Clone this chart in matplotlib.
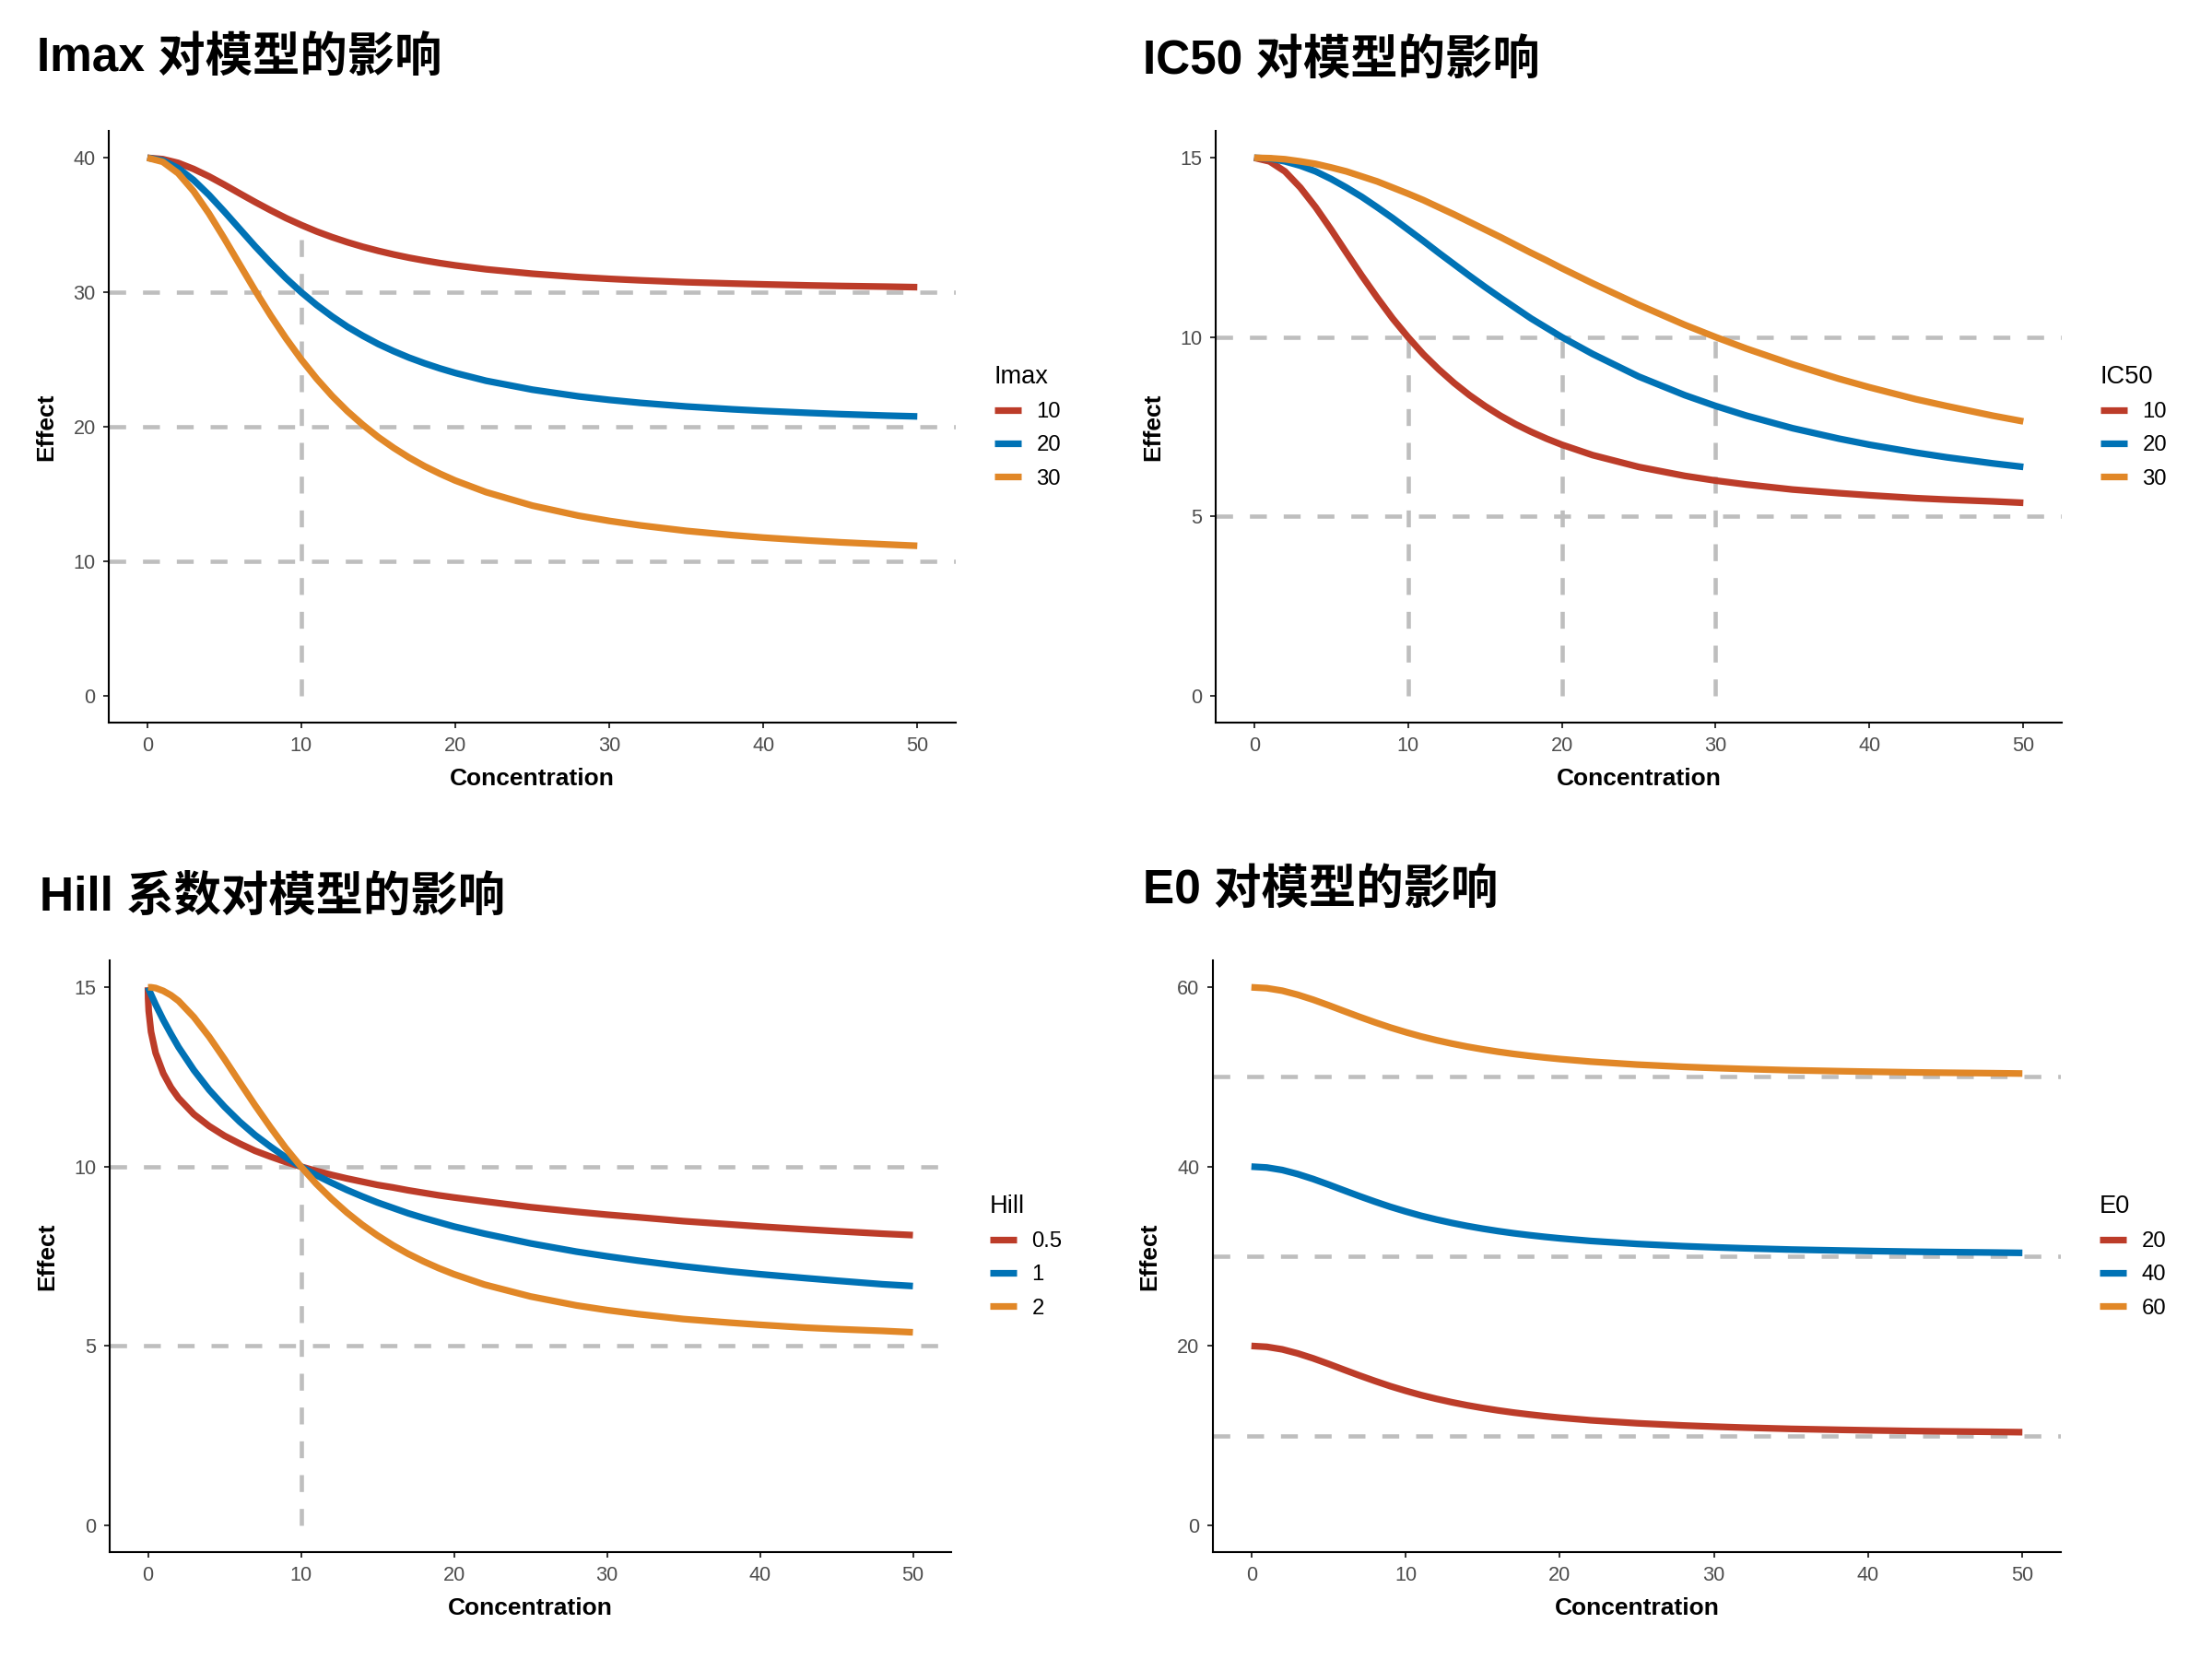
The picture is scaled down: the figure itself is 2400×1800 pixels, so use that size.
import matplotlib
matplotlib.use("Agg")
import matplotlib.pyplot as plt
from matplotlib.lines import Line2D

# 颜色 (NEJM 配色)
colors = ["#BC3C29", "#0072B5", "#E18727"]

# 浓度点
conc = [0, 1, 2, 3, 4, 5, 6, 7, 8, 9, 10, 11, 12, 13, 14, 15, 16, 17, 18, 19, 20,
        22, 25, 28, 30, 32, 35, 38, 40, 43, 45, 48, 50]
conc_hill = [0, 0.01, 0.05, 0.2, 0.5, 1, 1.5, 2, 3, 4, 5, 6, 7, 8, 9, 10, 11, 12,
             13, 14, 15, 16, 17, 18, 19, 20, 22, 25, 28, 30, 32, 35, 38, 40, 43,
             45, 48, 50]

# Imax 面板
imax_labels = ["10", "20", "30"]
imax_10 = [40, 39.90, 39.62, 39.17, 38.62, 38.0, 37.35, 36.71, 36.10, 35.52, 35.0,
           34.52, 34.10, 33.72, 33.38, 33.08, 32.81, 32.57, 32.36, 32.17, 32.0,
           31.71, 31.38, 31.13, 31.0, 30.89, 30.75, 30.65, 30.59, 30.51, 30.47,
           30.42, 30.38]
imax_20 = [40, 39.80, 39.23, 38.35, 37.24, 36.0, 34.71, 33.42, 32.20, 31.05, 30.0,
           29.05, 28.20, 27.43, 26.76, 26.15, 25.62, 25.14, 24.72, 24.34, 24.0,
           23.42, 22.76, 22.26, 22.0, 21.78, 21.51, 21.30, 21.18, 21.03, 20.94,
           20.83, 20.77]
imax_30 = [40, 39.70, 38.85, 37.52, 35.86, 34.0, 32.06, 30.13, 28.29, 26.58, 25.0,
           23.57, 22.29, 21.15, 20.14, 19.23, 18.43, 17.71, 17.07, 16.51, 16.0,
           15.14, 14.14, 13.39, 13.0, 12.67, 12.26, 11.94, 11.76, 11.54, 11.41,
           11.25, 11.15]

# IC50 面板
ic50_labels = ["10", "20", "30"]
ic50_10 = [15, 14.90, 14.62, 14.17, 13.62, 13.0, 12.35, 11.71, 11.10, 10.52, 10.0,
           9.52, 9.10, 8.72, 8.38, 8.08, 7.81, 7.57, 7.36, 7.17, 7.0,
           6.71, 6.38, 6.13, 6.0, 5.89, 5.75, 5.65, 5.59, 5.51, 5.47, 5.42, 5.38]
ic50_20 = [15, 14.98, 14.90, 14.78, 14.62, 14.41, 14.17, 13.91, 13.62, 13.32, 13.0,
           12.68, 12.35, 12.03, 11.71, 11.40, 11.10, 10.81, 10.52, 10.26, 10.0,
           9.53, 8.90, 8.38, 8.08, 7.81, 7.46, 7.17, 7.0, 6.78, 6.65, 6.48, 6.38]
ic50_30 = [15, 14.99, 14.96, 14.90, 14.83, 14.73, 14.62, 14.48, 14.34, 14.17, 14.0,
           13.82, 13.62, 13.42, 13.21, 13.0, 12.79, 12.57, 12.35, 12.14, 11.92,
           11.50, 10.90, 10.34, 10.0, 9.68, 9.24, 8.84, 8.60, 8.27, 8.08, 7.81, 7.65]

# Hill 面板
hill_labels = ["0.5", "1", "2"]
hill_05 = [15, 14.69, 14.34, 13.76, 13.17, 12.60, 12.21, 11.91, 11.46, 11.13, 10.86,
           10.64, 10.44, 10.28, 10.13, 10.0, 9.88, 9.77, 9.67, 9.58, 9.49, 9.42,
           9.34, 9.27, 9.20, 9.14, 9.03, 8.87, 8.74, 8.66, 8.59, 8.48, 8.39, 8.33,
           8.25, 8.20, 8.13, 8.09]
hill_1 = [15, 14.99, 14.95, 14.80, 14.52, 14.09, 13.70, 13.33, 12.69, 12.14, 11.67,
          11.25, 10.88, 10.56, 10.26, 10.0, 9.76, 9.55, 9.35, 9.17, 9.0, 8.85,
          8.70, 8.57, 8.45, 8.33, 8.13, 7.86, 7.63, 7.5, 7.38, 7.22, 7.08, 7.0,
          6.89, 6.82, 6.72, 6.67]
hill_2 = [15, 15.0, 15.0, 15.0, 14.98, 14.90, 14.78, 14.62, 14.17, 13.62, 13.0,
          12.35, 11.71, 11.10, 10.52, 10.0, 9.52, 9.10, 8.72, 8.38, 8.08, 7.81,
          7.57, 7.36, 7.17, 7.0, 6.71, 6.38, 6.13, 6.0, 5.89, 5.75, 5.65, 5.59,
          5.51, 5.47, 5.42, 5.38]

# E0 面板
e0_labels = ["20", "40", "60"]
e0_20 = [20, 19.90, 19.62, 19.17, 18.62, 18.0, 17.35, 16.71, 16.10, 15.52, 15.0,
         14.52, 14.10, 13.72, 13.38, 13.08, 12.81, 12.57, 12.36, 12.17, 12.0,
         11.71, 11.38, 11.13, 11.0, 10.89, 10.75, 10.65, 10.59, 10.51, 10.47,
         10.42, 10.38]
e0_40 = [40, 39.90, 39.62, 39.17, 38.62, 38.0, 37.35, 36.71, 36.10, 35.52, 35.0,
         34.52, 34.10, 33.72, 33.38, 33.08, 32.81, 32.57, 32.36, 32.17, 32.0,
         31.71, 31.38, 31.13, 31.0, 30.89, 30.75, 30.65, 30.59, 30.51, 30.47,
         30.42, 30.38]
e0_60 = [60, 59.90, 59.62, 59.17, 58.62, 58.0, 57.35, 56.71, 56.10, 55.52, 55.0,
         54.52, 54.10, 53.72, 53.38, 53.08, 52.81, 52.57, 52.36, 52.17, 52.0,
         51.71, 51.38, 51.13, 51.0, 50.89, 50.75, 50.65, 50.59, 50.51, 50.47,
         50.42, 50.38]

# 参考线
imax_hlines = [30, 20, 10]
imax_vlines = [(10, 35)]
ic50_hlines = [10, 5]
ic50_vlines = [(10, 10), (20, 10), (30, 10)]
hill_hlines = [10, 5]
hill_vlines = [(10, 10)]
e0_hlines = [50, 30, 10]
e0_vlines = []

latin_cjk = ["Liberation Sans", "Noto Sans CJK SC", "DejaVu Sans"]
plt.rcParams["font.family"] = latin_cjk

fig = plt.figure(figsize=(12, 9), dpi=200)


def panel(rect, x, series, labels, legend_title, hlines, vlines, yticks, ylim,
          title, title_xy):
    ax = fig.add_axes(rect)
    # 虚线参考线 (在曲线下面)
    for h in hlines:
        ax.axhline(h, color="#BEBEBE", lw=1.65, ls=(0, (4, 4)), zorder=1)
    for vx, top in vlines:
        ax.plot([vx, vx], [0, top], color="#BEBEBE", lw=1.65, ls=(0, (4, 4)),
                zorder=1)
    for y, c in zip(series, colors):
        ax.plot(x, y, color=c, lw=2.6, solid_capstyle="butt",
                solid_joinstyle="round", zorder=2)
    ax.set_xlim(-2.5, 52.5)
    ax.set_ylim(*ylim)
    ax.set_xticks([0, 10, 20, 30, 40, 50])
    ax.set_yticks(yticks)
    for s in ["top", "right"]:
        ax.spines[s].set_visible(False)
    for s in ["left", "bottom"]:
        ax.spines[s].set_linewidth(0.75)
        ax.spines[s].set_color("black")
    ax.tick_params(length=2.2, width=0.7, color="#333333", labelcolor="#4D4D4D",
                   labelsize=7.8, pad=3)
    ax.set_xlabel("Concentration", fontsize=9.5, fontweight="bold", labelpad=5)
    ax.set_ylabel("Effect", fontsize=9.5, fontweight="bold", labelpad=6.3)
    handles = [Line2D([0], [0], color=c, lw=2.6, solid_capstyle="butt")
               for c in colors]
    w = rect[2] * 2400
    leg = ax.legend(handles, labels, title=legend_title, loc="center left",
                    bbox_to_anchor=(1 + 30 / w, 0.5), frameon=False,
                    fontsize=8.6, title_fontsize=9.8, borderpad=0,
                    handlelength=1.2, handletextpad=0.7, labelspacing=0.6,
                    alignment="left")
    leg.get_title().set_color("black")
    fig.text(title_xy[0], title_xy[1], title, fontsize=18.5, fontweight="bold",
             va="center", ha="left", family=latin_cjk)
    return ax


panel([0.0492, 0.5644, 0.3829, 0.3567], conc, [imax_10, imax_20, imax_30],
      imax_labels, "Imax", imax_hlines, imax_vlines, [0, 10, 20, 30, 40],
      (-2, 42), "Imax 对模型的影响", (40 / 2400, 1 - 63 / 1800))
panel([0.5496, 0.5644, 0.3825, 0.3567], conc, [ic50_10, ic50_20, ic50_30],
      ic50_labels, "IC50", ic50_hlines, ic50_vlines, [0, 5, 10, 15],
      (-0.75, 15.75), "IC50 对模型的影响", (1240 / 2400, 1 - 66 / 1800))
panel([0.0496, 0.0644, 0.3804, 0.3567], conc_hill, [hill_05, hill_1, hill_2],
      hill_labels, "Hill", hill_hlines, hill_vlines, [0, 5, 10, 15],
      (-0.75, 15.75), "Hill 系数对模型的影响", (43 / 2400, 1 - 974 / 1800))
panel([0.5483, 0.0644, 0.3834, 0.3567], conc, [e0_20, e0_40, e0_60],
      e0_labels, "E0", e0_hlines, e0_vlines, [0, 20, 40, 60],
      (-3, 63), "E0 对模型的影响", (1240 / 2400, 1 - 966 / 1800))

plt.savefig("out.png", dpi=200, facecolor="white")
